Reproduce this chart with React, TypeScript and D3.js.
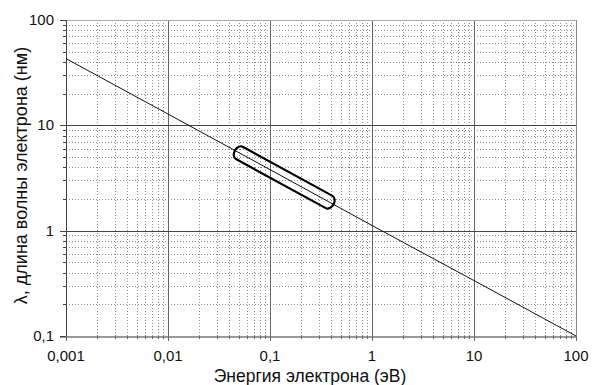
import React from "react";
import * as d3 from "d3";

// Electron kinetic energy (eV) and de Broglie wavelength (nm)
const energies = [0.001, 0.01, 0.1, 1, 10, 100];
const wavelengths = [43, 12.8, 3.8, 1.12, 0.336, 0.1];

// Energy interval highlighted by the cylinder marker
const bandEnergies = [0.05, 0.38];

const xTickValues = [0.001, 0.01, 0.1, 1, 10, 100];
const xTickLabels = ["0,001", "0,01", "0,1", "1", "10", "100"];
const yTickValues = [0.1, 1, 10, 100];
const yTickLabels = ["0,1", "1", "10", "100"];

const xTitle = "Энергия электрона (эВ)";
const yTitle = "λ, длина волны электрона (нм)";

const W = 593;
const H = 385;
const left = 66;
const right = 576;
const top = 20;
const bottom = 336;

const font = "'Liberation Sans', Arial, sans-serif";

function minorValues(lo: number, hi: number): number[] {
  const out: number[] = [];
  for (let d = lo; d < hi; d *= 10) {
    for (let k = 2; k <= 9; k++) out.push(d * k);
  }
  return out;
}

export default function App() {
  const x = d3.scaleLog().domain([0.001, 100]).range([left, right]);
  const y = d3.scaleLog().domain([0.1, 100]).range([bottom, top]);

  const xMinor = minorValues(0.001, 100);
  const yMinor = minorValues(0.1, 100);

  const line = d3
    .line<number>()
    .x((_, i) => x(energies[i]))
    .y((d) => y(d));

  // Wavelength on the curve at a given energy (log-log interpolation between points)
  const interp = (e: number) => {
    const le = Math.log10(e);
    for (let i = 0; i < energies.length - 1; i++) {
      const a = Math.log10(energies[i]);
      const b = Math.log10(energies[i + 1]);
      if (le >= a && le <= b) {
        const t = (le - a) / (b - a);
        const la = Math.log10(wavelengths[i]);
        const lb = Math.log10(wavelengths[i + 1]);
        return Math.pow(10, la + t * (lb - la));
      }
    }
    return wavelengths[0];
  };
  const p1 = [x(bandEnergies[0]), y(interp(bandEnergies[0]))];
  const p2 = [x(bandEnergies[1]), y(interp(bandEnergies[1]))];
  const cx = (p1[0] + p2[0]) / 2;
  const cy = (p1[1] + p2[1]) / 2;
  const len = Math.hypot(p2[0] - p1[0], p2[1] - p1[1]);
  const ang = (Math.atan2(p2[1] - p1[1], p2[0] - p1[0]) * 180) / Math.PI;
  const halfW = 7;

  const px = (v: number) => Math.round(x(v)) + 0.5;
  const py = (v: number) => Math.round(y(v)) + 0.5;

  return (
    <svg
      width={W}
      height={H}
      style={{ position: "absolute", left: 0, top: 0, background: "#fff" }}
    >
      {/* minor grid */}
      <g stroke="#8a8a8a" strokeWidth={1} strokeDasharray="1,2">
        {xMinor.map((v) => (
          <line key={"xm" + v} x1={px(v)} x2={px(v)} y1={top} y2={bottom} />
        ))}
        {yMinor.map((v) => (
          <line key={"ym" + v} y1={py(v)} y2={py(v)} x1={left} x2={right} />
        ))}
      </g>
      {/* major grid */}
      <g strokeWidth={1}>
        {xTickValues.slice(1, -1).map((v) => (
          <line key={"xM" + v} x1={px(v)} x2={px(v)} y1={top} y2={bottom} stroke="#666" />
        ))}
        {yTickValues.slice(1, -1).map((v) => (
          <line key={"yM" + v} y1={py(v)} y2={py(v)} x1={left - 6} x2={right} stroke="#444" />
        ))}
      </g>
      {/* frame */}
      <line x1={left} x2={right} y1={top + 0.5} y2={top + 0.5} stroke="#aaa" />
      <line x1={right + 0.5} x2={right + 0.5} y1={top} y2={bottom} stroke="#888" />
      <line x1={left - 6} x2={right + 1} y1={bottom + 1} y2={bottom + 1} stroke="#999" strokeWidth={2} />
      <line x1={left + 0.5} x2={left + 0.5} y1={top} y2={bottom} stroke="#444" />
      {/* y ticks */}
      <g stroke="#444">
        {yTickValues.map((v) => (
          <line key={"yt" + v} x1={left - 6} x2={left} y1={py(v)} y2={py(v)} />
        ))}
        {yMinor.map((v) => (
          <line key={"ytm" + v} x1={left - 3} x2={left} y1={py(v)} y2={py(v)} />
        ))}
      </g>
      {/* x ticks */}
      <g stroke="#666">
        {xTickValues.map((v) => (
          <line key={"xt" + v} x1={px(v)} x2={px(v)} y1={bottom} y2={bottom + 5} />
        ))}
        {xMinor.map((v) => (
          <line key={"xtm" + v} x1={px(v)} x2={px(v)} y1={bottom} y2={bottom + 3} />
        ))}
      </g>
      {/* wavelength curve */}
      <path d={line(wavelengths) || ""} fill="none" stroke="#111" strokeWidth={1} />
      {/* cylinder marker */}
      <g transform={`translate(${cx},${cy}) rotate(${ang})`}>
        <rect
          x={-len / 2 - 5}
          y={-halfW}
          width={len + 10}
          height={halfW * 2}
          rx={5}
          ry={halfW}
          fill="none"
          stroke="#000"
          strokeWidth={2.2}
        />
      </g>
      {/* tick labels */}
      <g fontFamily={font} fontSize={15} fill="#111">
        {xTickValues.map((v, i) => (
          <text key={"xl" + v} x={x(v)} y={bottom + 25} textAnchor="middle">
            {xTickLabels[i]}
          </text>
        ))}
        {yTickValues.map((v, i) => (
          <text key={"yl" + v} x={left - 12} y={y(v) + 5} textAnchor="end">
            {yTickLabels[i]}
          </text>
        ))}
      </g>
      {/* axis titles */}
      <text x={310} y={382} textAnchor="middle" fontFamily={font} fontSize={17.5} fill="#111">
        {xTitle}
      </text>
      <text
        transform={`translate(27,175.5) rotate(-90)`}
        textAnchor="middle"
        fontFamily={font}
        fontSize={18}
        fill="#111"
      >
        {yTitle}
      </text>
    </svg>
  );
}
